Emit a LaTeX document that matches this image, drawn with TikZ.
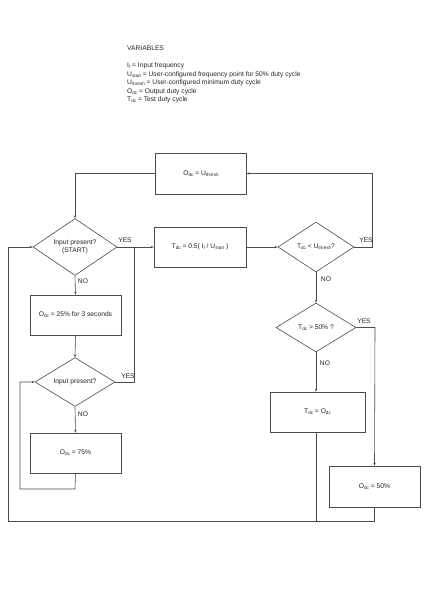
\documentclass[tikz,border=0pt]{standalone}
\usepackage{fontspec}
\setmainfont{Liberation Sans}
\usetikzlibrary{shapes.geometric,arrows.meta}
\newcommand\lowsub[1]{\raisebox{-0.3ex}{\fontsize{4.6}{5}\selectfont #1}}
\tikzset{
  ln/.style={draw=black!70, line width=0.6pt},
  arr/.style={ln, -{Stealth[length=3pt,width=2.4pt]}},
  procbox/.style={draw=black!70, line width=0.6pt, rectangle, inner sep=0pt, align=center, text=black!85},
  decide/.style={draw=black!70, line width=0.6pt, diamond, inner sep=0pt, align=center, text=black!85},
  lbl/.style={inner sep=0pt, text=black!85},
  vartxt/.style={anchor=west, inner sep=0pt, text=black!85}
}
\begin{document}
\begin{tikzpicture}[x=1pt,y=-1pt,font=\fontsize{6.7}{8}\selectfont]
\useasboundingbox[fill=white] (0,0) rectangle (424,600);
% variables
\node[vartxt] (vh) at (127,48) {VARIABLES};
\node[vartxt] (v1) at (127,66) {I\lowsub{f} = Input frequency};
\node[vartxt] (v2) at (127,74.5) {U\lowsub{start} = User-configured frequency point for 50\% duty cycle};
\node[vartxt] (v3) at (127,83) {U\lowsub{thresh} = User-configured minimum duty cycle};
\node[vartxt] (v4) at (127,91.5) {O\lowsub{dc} = Output duty cycle};
\node[vartxt] (v5) at (127,100) {T\lowsub{dc} = Test duty cycle};
% nodes
\node[procbox, minimum width=91pt, minimum height=41pt] (top) at (201,173.5) {O\lowsub{dc} = U\lowsub{thresh}};
\node[procbox, minimum width=92pt, minimum height=40pt] (calc) at (200,247) {T\lowsub{dc} = 0.5( I\lowsub{f} / U\lowsub{start} )};
\node[decide, minimum width=84pt, minimum height=52pt] (d1) at (75,247) {Input present?\\(START)};
\node[procbox, minimum width=91pt, minimum height=40pt] (b25) at (75.5,315) {O\lowsub{dc} = 25\% for 3 seconds};
\node[decide, minimum width=80pt, minimum height=48pt] (d2) at (75,382) {Input present?};
\node[procbox, minimum width=91pt, minimum height=40pt] (b75) at (75.5,453) {O\lowsub{dc} = 75\%};
\node[decide, minimum width=76pt, minimum height=50pt] (d3) at (316,247) {T\lowsub{dc} < U\lowsub{thresh}?};
\node[decide, minimum width=80pt, minimum height=49pt] (d4) at (316,327.5) {T\lowsub{dc} > 50\% ?};
\node[procbox, minimum width=95pt, minimum height=40pt] (bT) at (317.5,412) {T\lowsub{dc} = O\lowsub{dc}};
\node[procbox, minimum width=91pt, minimum height=41pt] (b50) at (374.5,486.5) {O\lowsub{dc} = 50\%};
% junction coordinates
\coordinate (jy) at (134,247);
\coordinate (r3) at (372,247);
\coordinate (r3t) at (372,173.5);
\coordinate (r4) at (375,327.5);
\coordinate (l2a) at (75,489);
\coordinate (l2b) at (20,489);
\coordinate (l2c) at (20,382);
\coordinate (bT1) at (316,521);
\coordinate (b501) at (374.5,521);
\coordinate (bl) at (8,521);
\coordinate (bl2) at (8,247);
% connectors
\draw[arr] (top.west) -| (d1.north);
\draw[arr] (d1.east) -- (calc.west);
\draw[arr] (d1.south) -- (b25.north);
\draw[arr] (b25.south) -- (d2.north);
\draw[ln] (d2.east) -| (jy);
\draw[arr] (d2.south) -- (b75.north);
\draw[arr] (b75.south) -- (l2a) -- (l2b) -- (l2c) -- (d2.west);
\draw[arr] (calc.east) -- (d3.west);
\draw[arr] (d3.east) -- (r3) -- (r3t) -- (top.east);
\draw[arr] (d3.south) -- (d4.north);
\draw[arr] (d4.east) -- (r4) -- (b50.north);
\draw[arr] (d4.south) -- (bT.north -| d4.south);
\draw[ln] (bT.south -| d4.south) -- (bT1);
\draw[arr] (b50.south) -- (b501) -- (bl) -- (bl2) -- (d1.west);
% labels
\node[lbl] (y1) at (125,240) {YES};
\node[lbl] (n1) at (83,281) {NO};
\node[lbl] (y2) at (128,376) {YES};
\node[lbl] (n2) at (83,414) {NO};
\node[lbl] (y3) at (366,240) {YES};
\node[lbl] (n3) at (326,279) {NO};
\node[lbl] (y4) at (364,321) {YES};
\node[lbl] (n4) at (325,363) {NO};
\end{tikzpicture}
\end{document}
